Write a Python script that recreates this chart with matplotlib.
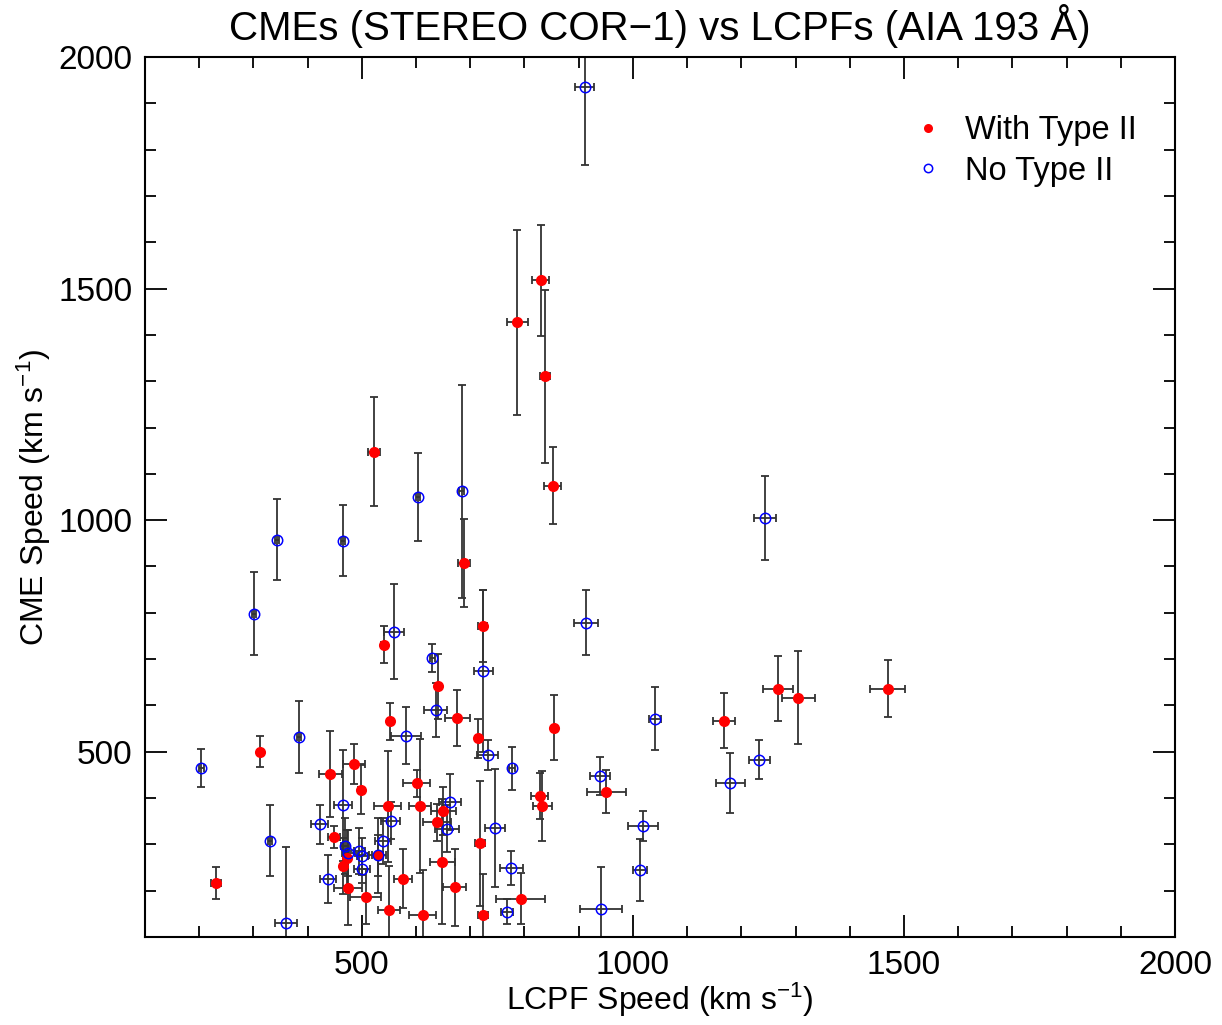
import matplotlib
matplotlib.use("Agg")
import matplotlib.pyplot as plt
from matplotlib.ticker import MultipleLocator

plt.rcParams['font.family'] = ['Liberation Sans', 'DejaVu Sans']
plt.rcParams['mathtext.fontset'] = 'custom'
plt.rcParams['mathtext.rm'] = 'Liberation Sans'
plt.rcParams['mathtext.it'] = 'Liberation Sans:italic'
plt.rcParams['mathtext.default'] = 'regular'

# With Type II (filled red)
red_x = [830, 787, 838, 852, 522, 688, 723, 540, 641, 552, 676, 714, 854, 601, 607, 548,
         650, 639, 498, 485, 442, 448, 466, 473, 474, 507, 550, 612, 529, 576, 671, 648,
         718, 724, 793, 828, 833, 951, 1168, 1268, 1305, 1470, 312, 231]
red_y = [1518, 1427, 1311, 1074, 1148, 907, 772, 731, 641, 566, 573, 529, 552, 432, 383, 382,
         372, 348, 418, 473, 452, 316, 253, 271, 206, 187, 158, 148, 276, 226, 207, 263,
         302, 147, 183, 405, 383, 414, 567, 636, 617, 636, 500, 216]
red_xerr = [16, 20, 9, 16, 11, 11, 8, 5, 3, 4, 23, 3, 2, 25, 20, 25,
            23, 26, 5, 20, 21, 11, 5, 5, 26, 28, 20, 25, 10, 17, 22, 23,
            9, 9, 45, 16, 18, 36, 20, 28, 30, 32, 4, 9]
red_yerr = [120, 200, 187, 83, 118, 95, 78, 40, 70, 40, 60, 42, 70, 29, 145, 120,
            52, 40, 53, 43, 92, 24, 60, 60, 80, 60, 96, 97, 80, 63, 83, 135,
            135, 90, 55, 50, 76, 46, 60, 70, 101, 62, 34, 35]

# No Type II (open blue)
blue_x = [911, 1244, 344, 465, 603, 684, 301, 384, 204, 330, 360, 438, 422, 465, 469, 475,
          495, 501, 500, 529, 539, 553, 559, 630, 636, 582, 724, 732, 777, 663, 657, 746,
          776, 767, 1040, 939, 1019, 1013, 941, 1233, 1180, 914]
blue_y = [1936, 1005, 958, 956, 1049, 1062, 798, 532, 465, 308, 130, 226, 343, 384, 297, 281,
          286, 274, 247, 276, 308, 351, 759, 703, 590, 535, 675, 493, 464, 391, 334, 336,
          249, 155, 571, 448, 339, 244, 161, 483, 433, 779]
blue_xerr = [18, 20, 4, 4, 4, 5, 4, 4, 4, 4, 21, 15, 15, 17, 8, 12,
             10, 10, 15, 15, 15, 18, 18, 5, 22, 28, 18, 19, 5, 20, 22, 18,
             22, 11, 11, 18, 28, 13, 39, 19, 26, 22]
blue_yerr = [170, 90, 87, 77, 95, 230, 90, 78, 41, 77, 165, 52, 42, 120, 60, 50,
             50, 40, 30, 45, 50, 40, 103, 30, 58, 62, 175, 32, 47, 60, 50, 127,
             37, 26, 68, 41, 32, 67, 91, 42, 65, 70]

fig = plt.figure(figsize=(12.22, 10.25), dpi=100)
ax = fig.add_axes([145/1222, 1-937/1025, (1175-145)/1222, (937-57)/1025])

ekw = dict(fmt='none', ecolor='0.2', elinewidth=1.3, capsize=3, capthick=1.3, zorder=2)
ax.errorbar(blue_x, blue_y, xerr=blue_xerr, yerr=blue_yerr, **ekw)
ax.errorbar(red_x, red_y, xerr=red_xerr, yerr=red_yerr, **ekw)

ax.plot(red_x, red_y, 'o', ms=8, mfc='red', mec='red', mew=0, zorder=3)
ax.plot(blue_x, blue_y, 'o', ms=7.5, mfc='none', mec='blue', mew=1.1, zorder=4)

# legend proxies
h1, = ax.plot([], [], 'o', ms=6.5, mfc='red', mec='red', mew=0)
h2, = ax.plot([], [], 'o', ms=6, mfc='none', mec='blue', mew=1.1)
ax.legend([h1, h2], ['With Type II', 'No Type II'], loc='upper right',
          bbox_to_anchor=(0.963, 0.934), frameon=False, fontsize=23.5,
          handlelength=0.6, handletextpad=0.85, labelspacing=0.3, borderaxespad=0,
          borderpad=0)

ax.set_xlim(100, 2000)
ax.set_ylim(100, 2000)
ax.xaxis.set_major_locator(MultipleLocator(500))
ax.xaxis.set_minor_locator(MultipleLocator(100))
ax.yaxis.set_major_locator(MultipleLocator(500))
ax.yaxis.set_minor_locator(MultipleLocator(100))
ax.tick_params(which='both', direction='in', top=True, right=True, width=1.3, labelsize=24, pad=9)
ax.tick_params(which='major', length=16)
ax.tick_params(which='minor', length=8)
for s in ax.spines.values():
    s.set_linewidth(1.5)

ax.set_xlabel('LCPF Speed (km s$^{\u22121}$)', fontsize=23, labelpad=0)
ax.set_ylabel('CME Speed (km s$^{\u22121}$)', fontsize=23, labelpad=4)
ax.set_title('CMEs (STEREO COR\u22121) vs LCPFs (AIA 193 \u00c5)', fontsize=29, pad=12)

fig.savefig('out.png', dpi=100)
